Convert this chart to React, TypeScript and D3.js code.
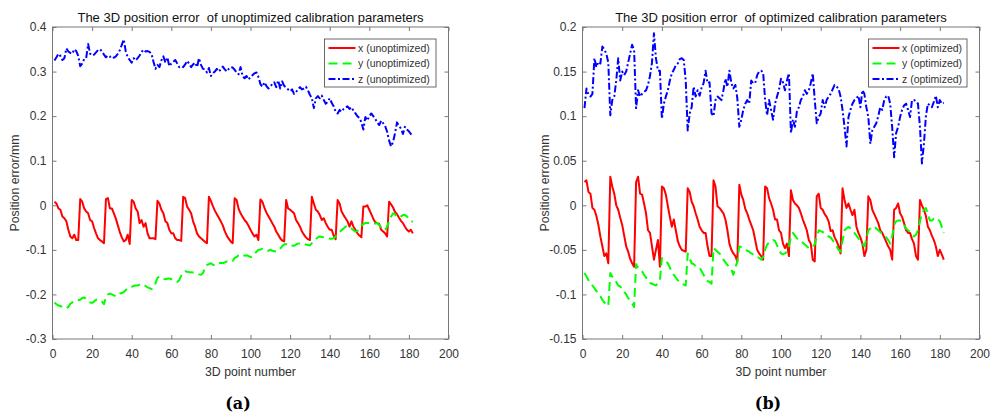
import React, {useEffect, useRef} from "react";
import * as d3 from "d3";

// point numbers 1..182 (x axis)
const pointNumbers = d3.range(1, 183);

// ---- (a) unoptimized ----
const xUnopt = [
  0.008, 0.004, -0.007, -0.010, -0.025, -0.029, -0.036, -0.055, -0.070, -0.074, -0.066, -0.078, -0.078,
  0.014, 0.008, -0.007, -0.014, -0.018, -0.033, -0.036, -0.051, -0.063, -0.074, -0.078, -0.081, -0.085,
  0.014, 0.016, -0.007, -0.007, -0.018, -0.030, -0.045, -0.060, -0.072, -0.081, -0.078, -0.066, -0.087,
  0.012, 0.008, -0.007, -0.014, -0.040, -0.033, -0.048, -0.040, -0.063, -0.074, -0.074, -0.074, -0.076,
  0.010, 0.004, -0.010, -0.018, -0.036, -0.040, -0.055, -0.063, -0.063, -0.074, -0.078, -0.078, -0.080,
  0.019, 0.016, -0.003, -0.010, -0.018, -0.036, -0.048, -0.063, -0.070, -0.074, -0.078, -0.082, -0.085,
  0.019, 0.010, -0.002, -0.012, -0.020, -0.028, -0.036, -0.045, -0.058, -0.068, -0.075, -0.081, -0.085,
  0.016, 0.012, -0.008, -0.018, -0.026, -0.033, -0.038, -0.046, -0.055, -0.063, -0.070, -0.066, -0.078,
  0.013, 0.008, -0.005, -0.016, -0.024, -0.032, -0.040, -0.048, -0.059, -0.066, -0.074, -0.079, -0.081,
  0.012, -0.007, -0.010, -0.014, -0.018, -0.033, -0.040, -0.048, -0.059, -0.066, -0.072, -0.076, -0.078,
  0.019, 0.004, -0.010, -0.014, -0.022, -0.033, -0.029, -0.040, -0.048, -0.055, -0.055, -0.068, -0.076,
  0.012, 0.004, -0.014, -0.022, -0.029, -0.036, -0.048, -0.036, -0.048, -0.055, -0.063, -0.068, -0.072,
  -0.003, -0.003, 0.000, -0.010, -0.020, -0.030, -0.038, -0.040, -0.042, -0.055, -0.059, -0.063, -0.070,
  0.008, 0.002, -0.005, -0.015, -0.020, -0.028, -0.035, -0.040, -0.048, -0.055, -0.059, -0.055, -0.063,
];
const yUnopt = [
  -0.218, -0.222, -0.225, -0.226, -0.228, -0.229, -0.231, -0.228, -0.221, -0.218, -0.215, -0.214, -0.213,
  -0.212, -0.208, -0.207, -0.210, -0.214, -0.218, -0.219, -0.216, -0.212, -0.211, -0.214, -0.216, -0.222,
  -0.205, -0.200, -0.198, -0.200, -0.202, -0.204, -0.203, -0.198, -0.197, -0.195, -0.190, -0.186, -0.185,
  -0.183, -0.181, -0.180, -0.180, -0.178, -0.177, -0.178, -0.181, -0.184, -0.186, -0.188, -0.185, -0.175,
  -0.163, -0.160, -0.162, -0.165, -0.166, -0.165, -0.164, -0.166, -0.168, -0.170, -0.172, -0.168, -0.158,
  -0.150, -0.148, -0.149, -0.150, -0.150, -0.151, -0.152, -0.153, -0.155, -0.156, -0.152, -0.140, -0.134,
  -0.132, -0.130, -0.133, -0.135, -0.133, -0.130, -0.129, -0.130, -0.128, -0.126, -0.125, -0.126, -0.125,
  -0.118, -0.116, -0.112, -0.110, -0.111, -0.113, -0.112, -0.114, -0.116, -0.115, -0.110, -0.104, -0.100,
  -0.099, -0.098, -0.100, -0.101, -0.102, -0.100, -0.102, -0.103, -0.104, -0.101, -0.097, -0.092, -0.088,
  -0.087, -0.090, -0.089, -0.090, -0.091, -0.088, -0.086, -0.085, -0.086, -0.087, -0.088, -0.089, -0.090,
  -0.085, -0.080, -0.076, -0.072, -0.070, -0.071, -0.072, -0.073, -0.074, -0.075, -0.075, -0.074, -0.070,
  -0.064, -0.060, -0.056, -0.052, -0.048, -0.046, -0.048, -0.052, -0.056, -0.059, -0.058, -0.052, -0.046,
  -0.042, -0.040, -0.040, -0.040, -0.041, -0.042, -0.041, -0.040, -0.044, -0.050, -0.055, -0.055, -0.048,
  -0.035, -0.025, -0.018, -0.020, -0.026, -0.028, -0.025, -0.022, -0.022, -0.025, -0.030, -0.035, -0.037,
];
const zUnopt = [
  0.325, 0.332, 0.340, 0.335, 0.326, 0.330, 0.352, 0.345, 0.342, 0.340, 0.350, 0.346, 0.335,
  0.312, 0.318, 0.328, 0.330, 0.362, 0.340, 0.336, 0.338, 0.343, 0.348, 0.350, 0.345, 0.338,
  0.332, 0.336, 0.333, 0.335, 0.331, 0.334, 0.340, 0.348, 0.360, 0.372, 0.345, 0.332, 0.326,
  0.320, 0.330, 0.325, 0.330, 0.336, 0.344, 0.349, 0.345, 0.346, 0.344, 0.340, 0.322, 0.306,
  0.315, 0.310, 0.325, 0.334, 0.320, 0.332, 0.312, 0.318, 0.322, 0.326, 0.318, 0.310, 0.312,
  0.310, 0.316, 0.324, 0.318, 0.310, 0.316, 0.320, 0.310, 0.330, 0.315, 0.306, 0.305, 0.298,
  0.308, 0.290, 0.296, 0.300, 0.306, 0.300, 0.305, 0.311, 0.305, 0.300, 0.306, 0.310, 0.309,
  0.304, 0.298, 0.294, 0.310, 0.290, 0.285, 0.290, 0.282, 0.288, 0.292, 0.296, 0.298, 0.288,
  0.272, 0.266, 0.276, 0.268, 0.262, 0.266, 0.272, 0.276, 0.265, 0.280, 0.262, 0.278, 0.268,
  0.264, 0.260, 0.256, 0.260, 0.250, 0.254, 0.260, 0.265, 0.260, 0.262, 0.266, 0.258, 0.248,
  0.240, 0.218, 0.240, 0.245, 0.240, 0.246, 0.236, 0.228, 0.232, 0.240, 0.230, 0.222, 0.210,
  0.206, 0.214, 0.210, 0.216, 0.220, 0.222, 0.216, 0.220, 0.212, 0.206, 0.200, 0.196, 0.186,
  0.170, 0.198, 0.190, 0.200, 0.206, 0.200, 0.194, 0.186, 0.180, 0.190, 0.184, 0.178, 0.165,
  0.145, 0.132, 0.142, 0.162, 0.186, 0.178, 0.172, 0.160, 0.176, 0.170, 0.166, 0.160, 0.156,
];

// ---- (b) optimized ----
const xOpt = [
  0.026, 0.028, 0.015, 0.013, -0.003, -0.005, -0.012, -0.022, -0.035, -0.046, -0.057, -0.054, -0.065,
  0.032, 0.021, 0.013, 0.000, -0.005, -0.014, -0.022, -0.034, -0.046, -0.052, -0.060, -0.065, -0.069,
  0.026, 0.032, 0.013, 0.012, 0.002, -0.009, -0.028, -0.031, -0.046, -0.061, -0.050, -0.039, -0.069,
  0.021, 0.019, 0.012, -0.001, -0.013, -0.024, -0.016, -0.028, -0.040, -0.046, -0.050, -0.051, -0.052,
  0.019, 0.015, 0.004, -0.001, -0.009, -0.016, -0.024, -0.028, -0.031, -0.031, -0.046, -0.057, -0.057,
  0.028, 0.021, -0.001, -0.003, -0.006, -0.009, -0.016, -0.028, -0.043, -0.050, -0.054, -0.057, -0.063,
  0.023, 0.012, 0.006, -0.004, -0.009, -0.016, -0.022, -0.028, -0.039, -0.050, -0.054, -0.057, -0.061,
  0.021, 0.019, 0.008, 0.002, -0.005, -0.016, -0.016, -0.028, -0.031, -0.043, -0.048, -0.043, -0.057,
  0.017, 0.006, 0.002, 0.000, -0.003, -0.009, -0.016, -0.022, -0.028, -0.039, -0.043, -0.061, -0.063,
  0.010, 0.013, -0.003, -0.005, -0.010, -0.013, -0.018, -0.029, -0.028, -0.036, -0.040, -0.046, -0.054,
  0.019, 0.006, -0.003, 0.002, -0.005, -0.011, -0.005, -0.024, -0.031, -0.036, -0.043, -0.057, -0.050,
  0.010, 0.006, -0.005, -0.010, -0.015, -0.020, -0.028, -0.031, -0.036, -0.041, -0.046, -0.050, -0.061,
  -0.005, -0.003, 0.002, -0.009, -0.013, -0.020, -0.028, -0.031, -0.031, -0.038, -0.043, -0.057, -0.061,
  0.006, 0.000, -0.005, -0.012, -0.024, -0.028, -0.034, -0.039, -0.046, -0.057, -0.050, -0.055, -0.061,
];
const yOpt = [
  -0.076, -0.080, -0.084, -0.087, -0.090, -0.093, -0.096, -0.099, -0.102, -0.106, -0.109, -0.111, -0.113,
  -0.076, -0.080, -0.082, -0.086, -0.090, -0.091, -0.095, -0.097, -0.100, -0.104, -0.107, -0.110, -0.114,
  -0.066, -0.070, -0.072, -0.074, -0.078, -0.081, -0.085, -0.087, -0.088, -0.089, -0.090, -0.087, -0.084,
  -0.059, -0.061, -0.063, -0.065, -0.070, -0.075, -0.078, -0.081, -0.084, -0.086, -0.087, -0.089, -0.090,
  -0.054, -0.060, -0.065, -0.066, -0.068, -0.069, -0.070, -0.074, -0.078, -0.082, -0.085, -0.086, -0.088,
  -0.048, -0.050, -0.052, -0.054, -0.057, -0.061, -0.064, -0.067, -0.069, -0.072, -0.078, -0.070, -0.063,
  -0.046, -0.047, -0.048, -0.050, -0.051, -0.052, -0.054, -0.055, -0.056, -0.058, -0.059, -0.061, -0.058,
  -0.050, -0.044, -0.042, -0.041, -0.039, -0.040, -0.045, -0.050, -0.054, -0.055, -0.054, -0.052, -0.045,
  -0.036, -0.031, -0.034, -0.037, -0.039, -0.040, -0.042, -0.044, -0.046, -0.048, -0.048, -0.046, -0.044,
  -0.035, -0.028, -0.029, -0.030, -0.031, -0.033, -0.035, -0.036, -0.039, -0.043, -0.046, -0.050, -0.052,
  -0.040, -0.028, -0.026, -0.024, -0.026, -0.029, -0.031, -0.034, -0.037, -0.040, -0.043, -0.046, -0.038,
  -0.028, -0.026, -0.024, -0.024, -0.026, -0.028, -0.030, -0.032, -0.034, -0.036, -0.039, -0.043, -0.035,
  -0.022, -0.018, -0.017, -0.017, -0.019, -0.022, -0.026, -0.028, -0.030, -0.033, -0.035, -0.033, -0.028,
  -0.018, -0.009, -0.005, -0.003, -0.010, -0.017, -0.017, -0.015, -0.014, -0.016, -0.018, -0.024, -0.031,
];
const zOpt = [
  0.109, 0.131, 0.124, 0.122, 0.125, 0.165, 0.155, 0.161, 0.159, 0.178, 0.175, 0.170, 0.160,
  0.101, 0.118, 0.122, 0.140, 0.165, 0.140, 0.150, 0.146, 0.150, 0.160, 0.170, 0.180, 0.174,
  0.109, 0.129, 0.122, 0.125, 0.127, 0.129, 0.135, 0.145, 0.160, 0.193, 0.165, 0.151, 0.151,
  0.097, 0.114, 0.122, 0.129, 0.140, 0.148, 0.152, 0.157, 0.159, 0.164, 0.165, 0.163, 0.140,
  0.084, 0.103, 0.110, 0.133, 0.122, 0.129, 0.123, 0.132, 0.137, 0.151, 0.137, 0.138, 0.103,
  0.100, 0.118, 0.122, 0.120, 0.118, 0.129, 0.142, 0.133, 0.151, 0.137, 0.131, 0.135, 0.120,
  0.088, 0.096, 0.107, 0.114, 0.118, 0.114, 0.140, 0.137, 0.137, 0.146, 0.150, 0.151, 0.149,
  0.118, 0.101, 0.118, 0.107, 0.096, 0.114, 0.122, 0.130, 0.142, 0.138, 0.129, 0.140, 0.148,
  0.081, 0.096, 0.088, 0.105, 0.110, 0.118, 0.122, 0.129, 0.125, 0.129, 0.137, 0.148, 0.118,
  0.092, 0.099, 0.103, 0.118, 0.110, 0.118, 0.122, 0.125, 0.130, 0.135, 0.133, 0.131, 0.122,
  0.107, 0.088, 0.066, 0.099, 0.107, 0.114, 0.118, 0.120, 0.123, 0.110, 0.129, 0.125, 0.110,
  0.099, 0.069, 0.084, 0.088, 0.092, 0.100, 0.110, 0.107, 0.118, 0.122, 0.123, 0.114, 0.088,
  0.054, 0.081, 0.088, 0.099, 0.107, 0.112, 0.114, 0.107, 0.099, 0.118, 0.118, 0.117, 0.114,
  0.088, 0.047, 0.069, 0.100, 0.114, 0.112, 0.110, 0.116, 0.123, 0.110, 0.118, 0.114, 0.115,
];

const xTicks = [0, 20, 40, 60, 80, 100, 120, 140, 160, 180, 200];
const yTicksA = [-0.3, -0.2, -0.1, 0, 0.1, 0.2, 0.3, 0.4];
const yTicksB = [-0.15, -0.1, -0.05, 0, 0.05, 0.1, 0.15, 0.2];

const styles = [
  {color: "#ff0000", dash: null},
  {color: "#00ff00", dash: "9,5"},
  {color: "#0000ff", dash: "7,2.5,2,2.5"},
];

const axisColor = "#777";
const textColor = "#333";
const font = "'Liberation Sans', Arial, sans-serif";

function Panel({left, right, yDomain, yTicks, series, labels, title, letter, letterX, legendX, legendW}) {
  const ref = useRef(null);
  const top = 27, bottom = 339;

  useEffect(() => {
    const g = d3.select(ref.current);
    g.selectAll("*").remove();
    const xScale = d3.scaleLinear().domain([0, 200]).range([left, right]);
    const yScale = d3.scaleLinear().domain(yDomain).range([bottom, top]);

    // title
    g.append("text")
      .attr("x", (left + right) / 2).attr("y", 21.5)
      .attr("text-anchor", "middle")
      .attr("font-size", 13).attr("fill", "#111")
      .attr("xml:space", "preserve")
      .text(title);

    // lines
    const line = d3.line()
      .x((d, i) => xScale(pointNumbers[i]))
      .y(d => yScale(d));
    series.forEach((s, i) => {
      g.append("path")
        .attr("d", line(s))
        .attr("fill", "none")
        .attr("stroke", styles[i].color)
        .attr("stroke-width", 2)
        .attr("stroke-dasharray", styles[i].dash)
        .attr("stroke-linejoin", "round");
    });

    // axes (inside ticks, box)
    const fmt = d => String(d);
    const xa = g.append("g").attr("transform", `translate(0,${bottom})`)
      .call(d3.axisBottom(xScale).tickValues(xTicks).tickSize(-4).tickPadding(10).tickFormat(fmt));
    const xt = g.append("g").attr("transform", `translate(0,${top})`)
      .call(d3.axisTop(xScale).tickValues(xTicks).tickSize(-4).tickFormat(""));
    const ya = g.append("g").attr("transform", `translate(${left},0)`)
      .call(d3.axisLeft(yScale).tickValues(yTicks).tickSize(-4).tickPadding(6).tickFormat(fmt));
    const yr = g.append("g").attr("transform", `translate(${right},0)`)
      .call(d3.axisRight(yScale).tickValues(yTicks).tickSize(-4).tickFormat(""));
    [xa, xt, ya, yr].forEach(a => {
      a.select(".domain").remove();
      a.selectAll("line").attr("stroke", axisColor);
      a.selectAll("text").attr("fill", textColor).attr("font-size", 12).attr("font-family", font);
    });
    g.append("rect")
      .attr("x", left).attr("y", top)
      .attr("width", right - left).attr("height", bottom - top)
      .attr("fill", "none").attr("stroke", axisColor);

    // axis labels
    g.append("text")
      .attr("x", (left + right) / 2).attr("y", 375.5)
      .attr("text-anchor", "middle").attr("font-size", 12.3).attr("fill", textColor)
      .text("3D point number");
    g.append("text")
      .attr("transform", `translate(${left - 34},${(top + bottom) / 2}) rotate(-90)`)
      .attr("text-anchor", "middle").attr("font-size", 12.3).attr("fill", textColor)
      .text("Position error/mm");

    // legend
    const lg = g.append("g").attr("transform", `translate(${legendX},39)`);
    lg.append("rect").attr("width", legendW).attr("height", 48)
      .attr("fill", "white").attr("stroke", "#444").attr("stroke-width", 0.8);
    labels.forEach((lab, i) => {
      const y = 9 + i * 15.5;
      lg.append("line")
        .attr("x1", 4).attr("x2", 31).attr("y1", y).attr("y2", y)
        .attr("stroke", styles[i].color).attr("stroke-width", 2)
        .attr("stroke-dasharray", styles[i].dash);
      lg.append("text")
        .attr("x", 33.5).attr("y", y).attr("dy", "0.35em")
        .attr("font-size", 10.5).attr("fill", textColor)
        .text(lab);
    });

    // sub-figure letter
    g.append("text")
      .attr("x", letterX).attr("y", 409)
      .attr("text-anchor", "middle")
      .attr("font-family", "'DejaVu Serif', serif")
      .attr("font-weight", "bold").attr("font-size", 16).attr("fill", "#000")
      .text(`(${letter})`);
  }, [left, right, yDomain, yTicks, series, labels, title, letter, letterX, legendX, legendW]);

  return <g ref={ref} fontFamily={font}/>;
}

export default function App() {
  return (
    <svg width={992} height={417} style={{position: "absolute", left: 0, top: 0, background: "white"}}>
      <Panel
        left={52.5} right={448.5}
        yDomain={[-0.3, 0.4]} yTicks={yTicksA}
        series={[xUnopt, yUnopt, zUnopt]}
        labels={["x (unoptimized)", "y (unoptimized)", "z (unoptimized)"]}
        title="The 3D position error  of unoptimized calibration parameters"
        letter="a" letterX={238}
        legendX={324.5} legendW={111.5}
      />
      <Panel
        left={582.5} right={979.5}
        yDomain={[-0.15, 0.2]} yTicks={yTicksB}
        series={[xOpt, yOpt, zOpt]}
        labels={["x (optimized)", "y (optimized)", "z (optimized)"]}
        title="The 3D position error  of optimized calibration parameters"
        letter="b" letterX={768}
        legendX={868.5} legendW={98.5}
      />
    </svg>
  );
}
